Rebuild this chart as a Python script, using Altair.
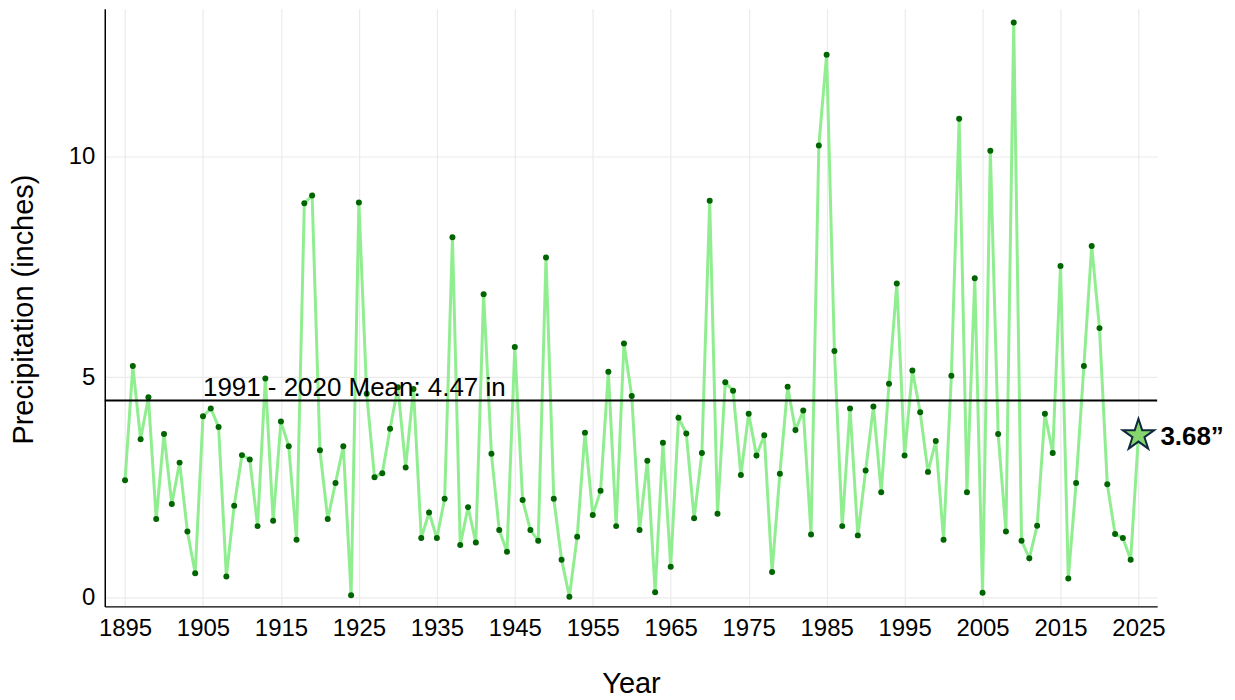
import altair as alt
import pandas as pd

years = list(range(1895, 2026))
precip = [
    2.66, 5.25, 3.59, 4.54, 1.78, 3.71, 2.12, 3.06, 1.50, 0.55,   # 1895-1904
    4.11, 4.29, 3.87, 0.48, 2.08, 3.23, 3.13, 1.62, 4.97, 1.74,   # 1905-1914
    3.99, 3.43, 1.31, 8.94, 9.12, 3.34, 1.78, 2.60, 3.43, 0.05,   # 1915-1924
    8.96, 4.62, 2.73, 2.82, 3.83, 4.77, 2.95, 4.73, 1.35, 1.93,   # 1925-1934
    1.35, 2.24, 8.17, 1.19, 2.05, 1.25, 6.88, 3.26, 1.53, 1.04,   # 1935-1944
    5.68, 2.21, 1.53, 1.29, 7.71, 2.24, 0.86, 0.02, 1.38, 3.74,   # 1945-1954
    1.87, 2.42, 5.12, 1.62, 5.76, 4.57, 1.53, 3.10, 0.12, 3.51,   # 1955-1964
    0.70, 4.08, 3.72, 1.80, 3.28, 9.00, 1.90, 4.88, 4.69, 2.78,   # 1965-1974
    4.17, 3.22, 3.68, 0.58, 2.81, 4.78, 3.80, 4.24, 1.43, 10.25,  # 1975-1984
    12.31, 5.59, 1.62, 4.29, 1.41, 2.88, 4.33, 2.39, 4.85, 7.12,  # 1985-1994
    3.22, 5.15, 4.20, 2.85, 3.55, 1.31, 5.03, 10.86, 2.39, 7.24,  # 1995-2004
    0.11, 10.13, 3.71, 1.50, 13.04, 1.29, 0.89, 1.63, 4.17, 3.28, # 2005-2014
    7.52, 0.43, 2.60, 5.25, 7.97, 6.11, 2.57, 1.44, 1.35, 0.86,   # 2015-2024
    3.68,                                                          # 2025
]
assert len(years) == len(precip)

mean_value = 4.47
mean_label = "1991 - 2020 Mean: 4.47 in"
mean_label_year = 1905
latest_year = 2025
latest_value = 3.68
latest_label = "3.68\u201d"
x_ticks = list(range(1895, 2026, 10))
y_ticks = [0, 5, 10]

FONT = "Liberation Sans"
# five-pointed star as an SVG path in the unit symbol box
STAR_PATH = ("M0,-1 L0.225,-0.309 L0.951,-0.309 L0.363,0.118 L0.588,0.809 "
             "L0,0.382 L-0.588,0.809 L-0.363,0.118 L-0.951,-0.309 L-0.225,-0.309 Z")

df = pd.DataFrame({"Year": years, "Precip": precip})
pts = df[df["Year"] < latest_year].reset_index(drop=True)

xs = alt.Scale(domain=[1892.4, 2027.4], nice=False, zero=False)
ys = alt.Scale(domain=[-0.2, 13.35], nice=False)

axis_style = dict(
    labelFontSize=24, titleFontSize=29, titleFontWeight="normal",
    labelColor="#000000", titleColor="#000000", ticks=False, labelPadding=10,
    domainColor="#000000", domainWidth=1.5, gridColor="#EBEBEB", gridWidth=1.2,
    labelFont=FONT, titleFont=FONT,
)
x_axis = alt.Axis(
    orient="bottom", values=x_ticks, format="d", title="Year",
    titleY=77, titleBaseline="middle", **axis_style,
)
y_axis = alt.Axis(
    orient="left", values=y_ticks, title="Precipitation (inches)", titleX=-81,
    titleY=301, titleAngle=270, titleAlign="center", titleBaseline="middle",
    **axis_style,
)

X = alt.X("Year:Q", scale=xs, axis=x_axis)
Y = alt.Y("Precip:Q", scale=ys, axis=y_axis)

line = alt.Chart(df).mark_line(color="#90EE90", strokeWidth=3).encode(x=X, y=Y)

points = alt.Chart(pts).mark_circle(color="#006400", size=36, opacity=1).encode(x=X, y=Y)

mean_df = pd.DataFrame({"Precip": [mean_value], "Year": [mean_label_year], "label": [mean_label]})
mean_rule = alt.Chart(mean_df).mark_rule(color="#000000", strokeWidth=2).encode(y=Y)
mean_text = alt.Chart(mean_df).mark_text(
    align="left", baseline="alphabetic", dy=-4, fontSize=26, color="#000000", font=FONT
).encode(x=X, y=Y, text="label:N")

latest_df = pd.DataFrame({"Year": [latest_year], "Precip": [latest_value], "label": [latest_label]})
star = alt.Chart(latest_df).mark_point(
    shape=STAR_PATH, size=1100, filled=True, fill="#86D46E", stroke="#0F2A3D",
    strokeWidth=2, opacity=1, fillOpacity=1, strokeOpacity=1,
).encode(x=X, y=Y)
star_label = alt.Chart(latest_df).mark_text(
    align="left", baseline="middle", dx=22, dy=2, fontSize=26, fontWeight="bold",
    color="#000000", font=FONT,
).encode(x=X, y=Y, text="label:N")

chart = (
    alt.layer(line, points, mean_rule, mean_text, star, star_label)
    .properties(
        width=1055,
        height=599,
        autosize=alt.AutoSizeParams(type="none"),
        padding={"left": 97, "top": 0, "right": 70, "bottom": 92},
        background="white",
    )
    .configure_view(strokeWidth=0)
)

chart.save("out.html", embed_options={"renderer": "svg", "actions": False})
